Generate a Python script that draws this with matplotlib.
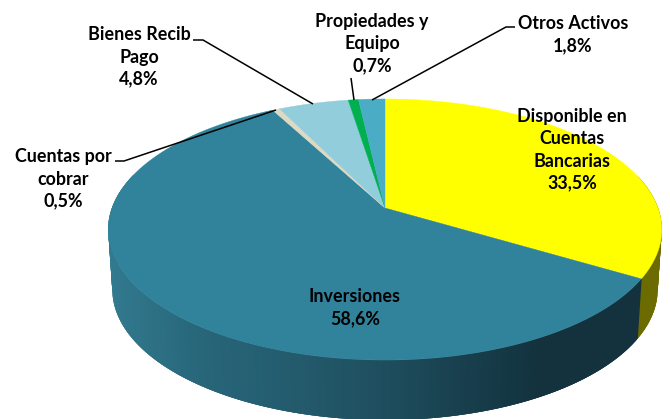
import numpy as np
import matplotlib
matplotlib.use("Agg")
import matplotlib.pyplot as plt

plt.rcParams['font.family'] = ['Lato', 'DejaVu Sans']

# slices, clockwise from the top
nombres = ["Disponible en\nCuentas\nBancarias", "Inversiones", "Cuentas por\ncobrar",
           "Bienes Recib\nPago", "Propiedades y\nEquipo", "Otros Activos"]
valores = [33.5, 58.6, 0.5, 4.8, 0.7, 1.8]
colores = ["#FFFF00", "#31829B", "#DDD9C3", "#92CDDC", "#00B050", "#4BACC6"]

etiqueta_x = [572, 355, 63, 139, 372, 573]
etiqueta_y = [150, 308, 179, 57, 44, 35]

# leader lines (pixels)
guias = [
    ([115, 124, 276], [161, 161, 110]),
    ([193, 203, 313], [40, 40, 104]),
    ([351, 354], [78, 100]),
    ([515, 506, 372], [27, 27, 100]),
]

# gradient of the teal side wall, left to right
grad_x = [108, 200, 300, 385, 470, 540, 640]
grad_r = [50, 40, 35, 30, 24, 19, 19]
grad_g = [122, 102, 90, 78, 62, 50, 50]
grad_b = [142, 122, 108, 94, 76, 62, 62]

CX, CY = 385, 208
RX, K, D = 273, 0.1648, 127
PROF = 60


def proyectar(ang, escala=1.0, baja=0):
    # circle to tilted ellipse, with the pie centre pushed back by perspective
    X = np.sin(ang)
    Y = np.cos(ang)
    w = 1 + K * Y
    return CX + escala * RX * X / w, CY - D * Y / w + baja


fig = plt.figure(figsize=(6.7, 4.19), dpi=100)
ax = fig.add_axes([0, 0, 1, 1])
ax.set_xlim(0, 670)
ax.set_ylim(419, 0)
ax.axis("off")

total = sum(valores)
cortes = np.concatenate([[0], np.cumsum(valores)]) / total * 2 * np.pi

# side wall, each piece runs under the next one so no seams show
angs = np.linspace(np.radians(75), np.radians(285), 421)
paso = angs[1] - angs[0]
for a0 in angs[:-1]:
    ar = np.linspace(a0, a0 + 3 * paso, 5)
    x1, y1 = proyectar(ar)
    x2, y2 = proyectar(ar[::-1], 0.985, PROF)
    xm = proyectar(a0 + paso / 2)[0]
    if a0 + paso / 2 < cortes[1]:
        c = "#6B6B00"
    else:
        c = (np.interp(xm, grad_x, grad_r) / 255,
             np.interp(xm, grad_x, grad_g) / 255,
             np.interp(xm, grad_x, grad_b) / 255)
    ax.fill(np.r_[x1, x2], np.r_[y1, y2], color=c, lw=0, zorder=1)

# top face
for i in range(len(valores)):
    ar = np.linspace(cortes[i], cortes[i + 1], 200)
    x, y = proyectar(ar)
    ax.fill(np.r_[CX, x], np.r_[CY, y], color=colores[i], lw=0.3, zorder=2)

for gx, gy in guias:
    ax.plot(gx, gy, color="black", lw=1.1, zorder=3, solid_capstyle="butt")

for i in range(len(valores)):
    txt = nombres[i] + "\n" + f"{valores[i]:.1f}%".replace(".", ",")
    ax.text(etiqueta_x[i], etiqueta_y[i], txt, ha="center", va="center", fontsize=12.9,
            fontweight="bold", color="black", linespacing=1.36, zorder=4)

fig.savefig("out.png", dpi=100)
